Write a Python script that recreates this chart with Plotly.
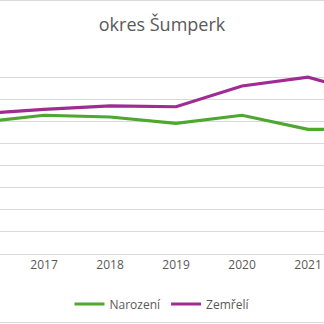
import plotly.graph_objects as go

years = [2016, 2017, 2018, 2019, 2020, 2021, 2022]
narozeni = [1190, 1255, 1239, 1182, 1255, 1128, 1125]
zemreli = [1268, 1309, 1339, 1332, 1520, 1600, 1430]
tick_years = [2017, 2018, 2019, 2020, 2021]

GREEN = "#4EA72E"
PURPLE = "#A02B93"
TXT = "#595959"
GRID = "#D9D9D9"

fig = go.Figure()
fig.add_trace(go.Scatter(x=years, y=narozeni, name="Narození", mode="lines",
                         line=dict(color=GREEN, width=3.2)))
fig.add_trace(go.Scatter(x=years, y=zemreli, name="Zemřelí", mode="lines",
                         line=dict(color=PURPLE, width=3.2)))

fig.update_layout(
    width=324, height=324,
    margin=dict(l=0, r=0, t=54, b=70),
    paper_bgcolor="white", plot_bgcolor="white",
    title=dict(text="okres Šumperk", x=0.5, xanchor="center", y=1 - 25 / 324, yanchor="middle",
               font=dict(family="Open Sans", size=18, color=TXT)),
    xaxis=dict(range=[2016.333, 2021.242], tickvals=tick_years,
               ticktext=[str(y) for y in tick_years], showgrid=False, zeroline=False,
               showline=True, linecolor=GRID, linewidth=1, ticks="",
               tickfont=dict(family="Open Sans", size=12, color=TXT)),
    yaxis=dict(range=[0, 1809], dtick=200, showgrid=True, gridcolor=GRID, gridwidth=1,
               zeroline=False, showticklabels=False, ticks=""),
    showlegend=True,
    legend=dict(orientation="h", x=0.5, xanchor="center", y=-0.25, yanchor="middle",
                font=dict(family="Open Sans", size=12, color=TXT),
                itemwidth=30, tracegroupgap=0),
    shapes=[
        dict(type="line", xref="paper", yref="paper", x0=0, x1=1,
             y0=(254 - 0.5) / 200, y1=(254 - 0.5) / 200, line=dict(color=GRID, width=1)),
        dict(type="line", xref="paper", yref="paper", x0=0, x1=1,
             y0=(254 - 322.5) / 200, y1=(254 - 322.5) / 200, line=dict(color=GRID, width=1)),
    ],
)

fig.write_html("out.html")
